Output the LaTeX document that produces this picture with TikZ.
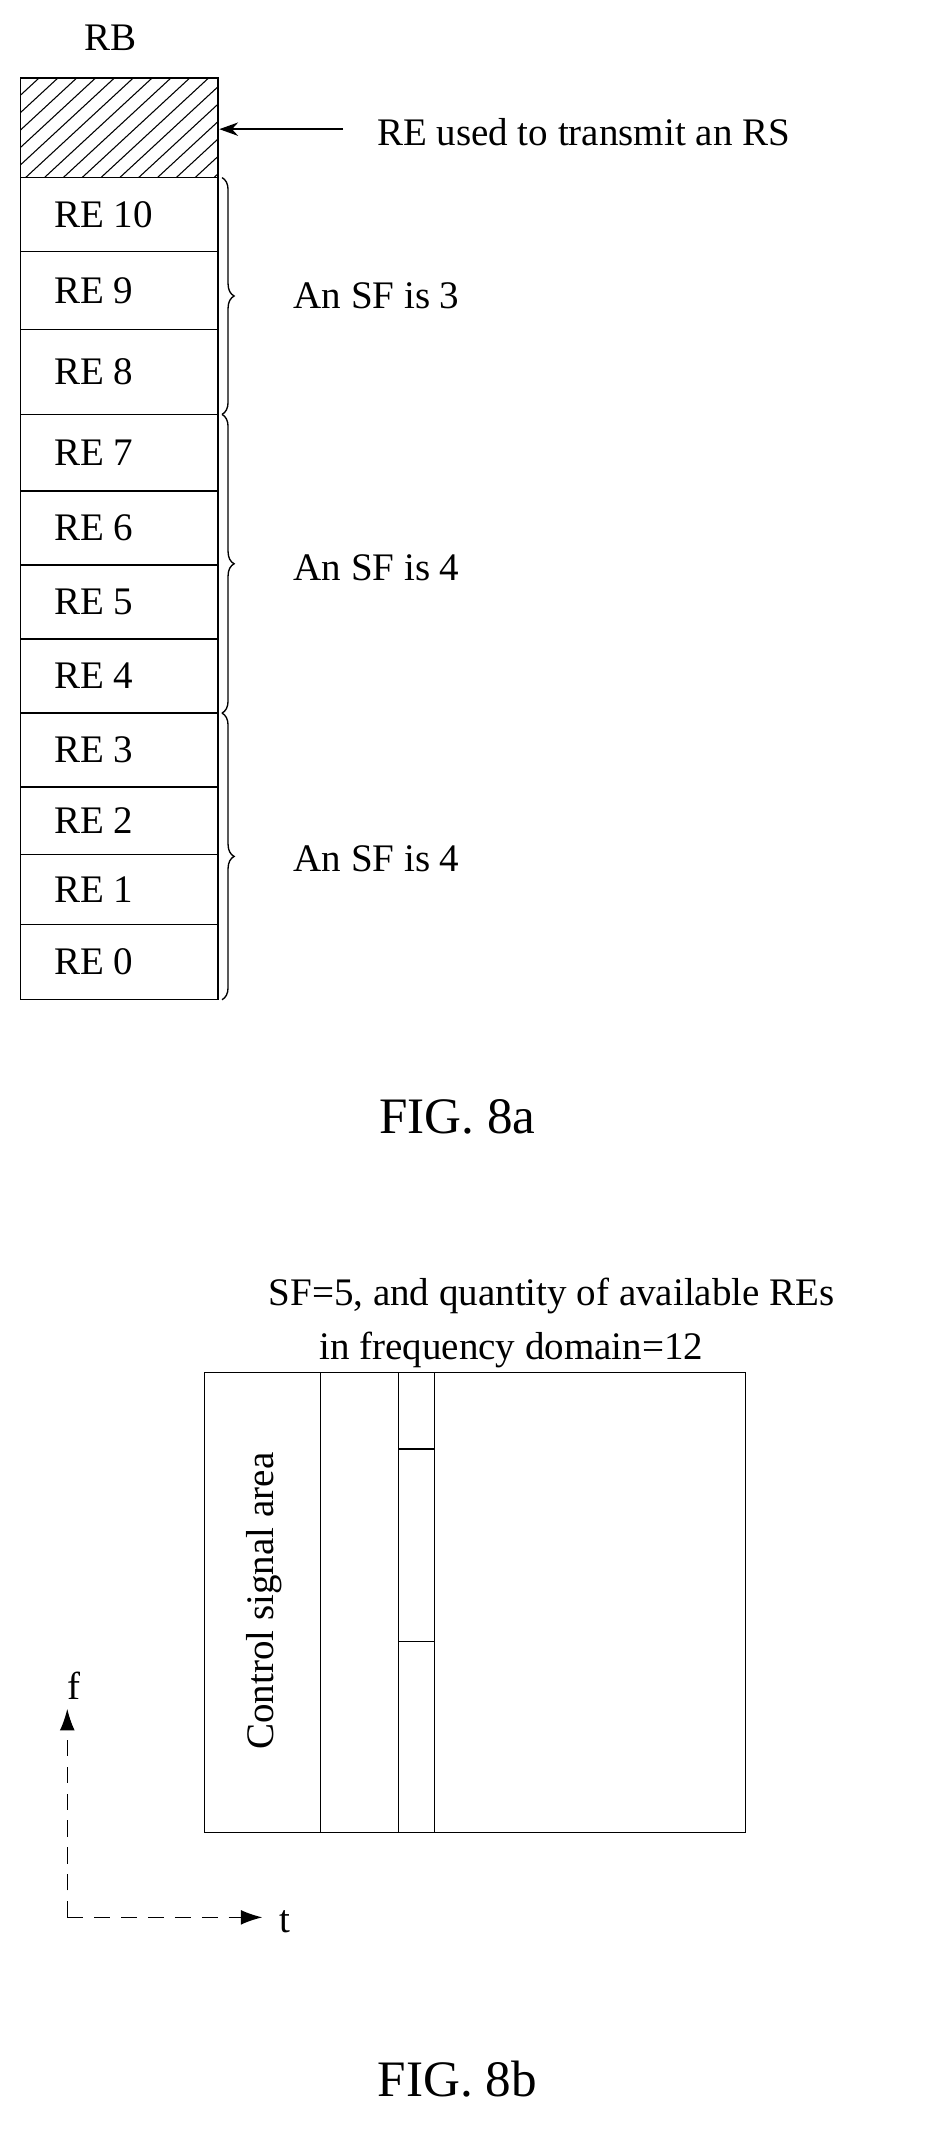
\documentclass[tikz,border=0pt]{standalone}
\usepackage{fontspec}
\setmainfont{Liberation Serif}
\usetikzlibrary{decorations.pathreplacing,arrows.meta}
\begin{document}
\begin{tikzpicture}[x=1pt,y=-1pt,
  txt/.style={font=\fontsize{29}{34}\selectfont,inner sep=0pt},
  fig/.style={font=\fontsize{38}{42}\selectfont,inner sep=0pt},
  cell/.style={draw,line width=1pt},
  br/.style={draw,line width=1pt,decorate,decoration={brace,amplitude=9pt}}]
\useasboundingbox (0,0) rectangle (688,1589);
\node[txt] (rb) at (82,28) {RB};
\begin{scope}
\clip (15,58) rectangle (162,132);
\foreach \i in {0,...,16}{\draw[line width=0.8pt] ({15+\i*14-80},132) -- ({15+\i*14},58);}
\end{scope}
\draw[cell] (15,58) rectangle (162,132);
\coordinate (rstop) at (163,96);
\foreach \a/\b/\n in {132/187/10,187/245/9,245/308/8,308/365/7,365/420/6,420/475/5,475/530/4,530/585/3,585/635/2,635/687/1,687/743/0}{
  \draw[cell] (15,\a) rectangle (162,\b);
  \node[txt,anchor=west] (re\n) at (40,{(\a+\b)/2}) {RE \n};
}
\node[txt,anchor=west] (rslab) at (280,98) {RE used to transmit an RS};
\coordinate (arrs) at (255,96);
\draw[line width=1pt,-{Stealth[length=14pt,width=10pt]}] (arrs) -- (rstop);
\draw[br] (165,132) -- (165,308);
\draw[br] (165,308) -- (165,530);
\draw[br] (165,530) -- (165,743);
\node[txt,anchor=west] (sf3) at (218,220) {An SF is 3};
\node[txt,anchor=west] (sf4a) at (218,422) {An SF is 4};
\node[txt,anchor=west] (sf4b) at (218,638) {An SF is 4};
\node[fig] (f8a) at (340,830) {FIG. 8a};
\node[txt] (t1) at (410,963) {SF=5, and quantity of available REs};
\node[txt] (t2) at (380,1003) {in frequency domain=12};
\draw[cell] (152,1020) rectangle (554,1362);
\draw[cell] (238,1020) -- (238,1362);
\draw[cell] (296,1020) -- (296,1362);
\draw[cell] (323,1020) -- (323,1362);
\draw[cell] (296,1077) -- (323,1077);
\draw[cell] (296,1220) -- (323,1220);
\node[txt,rotate=90] (ctl) at (196,1190) {Control signal area};
\coordinate (o) at (50,1425);
\coordinate (fend) at (50,1270);
\coordinate (tend) at (195,1425);
\draw[line width=1pt,dash pattern=on 12pt off 8pt,-{Latex[length=16pt,width=11pt]}] (o) -- (fend);
\draw[line width=1pt,dash pattern=on 12pt off 8pt,-{Latex[length=16pt,width=11pt]}] (o) -- (tend);
\node[txt] (f) at (55,1253) {f};
\node[txt] (t) at (212,1428) {t};
\node[fig] (f8b) at (340,1545) {FIG. 8b};
\end{tikzpicture}
\end{document}
